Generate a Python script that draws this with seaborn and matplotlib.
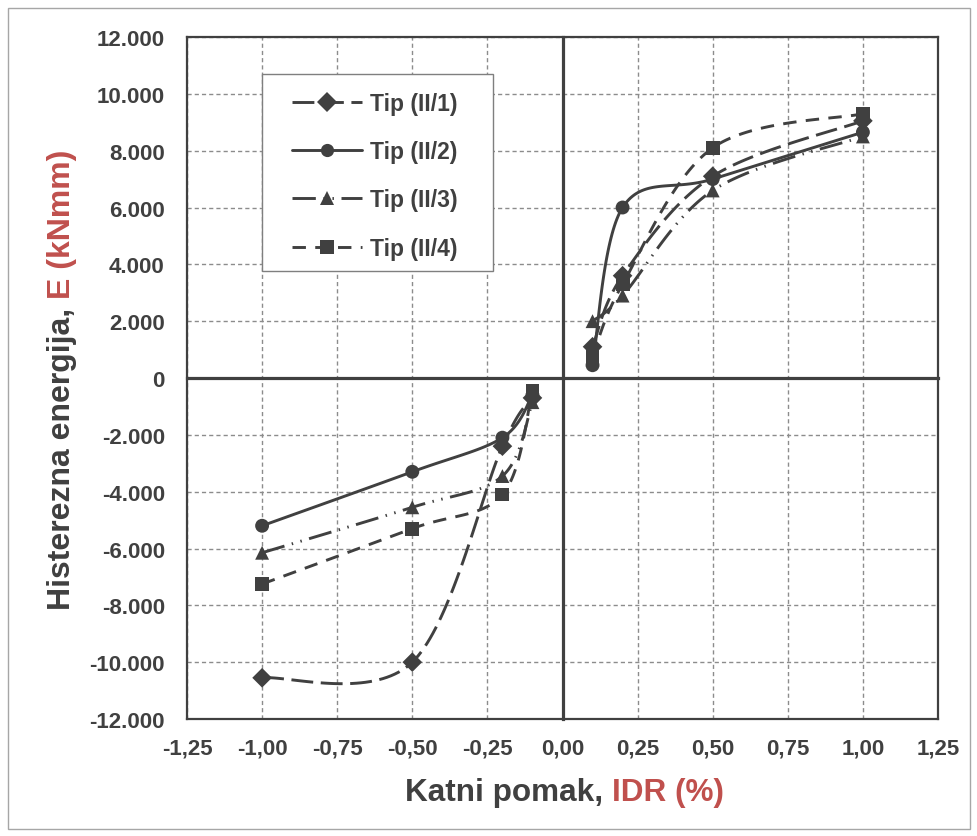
import numpy as np
import pandas as pd
import matplotlib
matplotlib.use('Agg')
import matplotlib.pyplot as plt
from matplotlib.lines import Line2D
from matplotlib.patches import Rectangle
from matplotlib.ticker import FuncFormatter
import seaborn as sns

# Data (IDR in %, energy in kNmm)
x_neg = [-1.0, -0.5, -0.2, -0.1]
x_pos = [0.1, 0.2, 0.5, 1.0]

tip1_neg = [-10550, -10000, -2400, -700]
tip1_pos = [1100, 3600, 7100, 9050]
tip2_neg = [-5200, -3300, -2100, -600]
tip2_pos = [450, 6000, 7000, 8650]
tip3_neg = [-6150, -4550, -3450, -850]
tip3_pos = [2000, 2900, 6600, 8500]
tip4_neg = [-7250, -5300, -4100, -450]
tip4_pos = [750, 3300, 8100, 9300]

series = ['Tip (II/1)', 'Tip (II/2)', 'Tip (II/3)', 'Tip (II/4)']
values = {
    'Tip (II/1)': (tip1_neg, tip1_pos),
    'Tip (II/2)': (tip2_neg, tip2_pos),
    'Tip (II/3)': (tip3_neg, tip3_pos),
    'Tip (II/4)': (tip4_neg, tip4_pos),
}

x_ticks = np.arange(-1.25, 1.26, 0.25)
y_ticks = np.arange(-12000, 12001, 2000)

dark = '#404040'
red = '#C0504D'
lw = 2.1

dash_map = {
    'Tip (II/1)': (7.5, 2.6),
    'Tip (II/2)': '',
    'Tip (II/3)': (8.0, 2.6, 0.5, 2.6, 0.5, 2.6),
    'Tip (II/4)': (4.6, 3.2),
}
marker_map = {'Tip (II/1)': 'D', 'Tip (II/2)': 'o', 'Tip (II/3)': '^', 'Tip (II/4)': 's'}


def smooth(xs, ys, n=40):
    # Excel-style smoothed line (Catmull-Rom Bezier through the points)
    P = np.column_stack([xs, ys]).astype(float)
    out = []
    for i in range(len(P) - 1):
        p0 = P[max(i - 1, 0)]
        p1 = P[i]
        p2 = P[i + 1]
        p3 = P[min(i + 2, len(P) - 1)]
        c1 = p1 + (p2 - p0) / 6
        c2 = p2 - (p3 - p1) / 6
        t = np.linspace(0, 1, n)[:, None]
        seg = (1 - t) ** 3 * p1 + 3 * (1 - t) ** 2 * t * c1 + 3 * (1 - t) * t ** 2 * c2 + t ** 3 * p2
        out.append(seg if i == 0 else seg[1:])
    arr = np.vstack(out)
    return arr[:, 0], arr[:, 1]


# Build tables for seaborn
curve_rows = []
point_rows = []
for name in series:
    neg, pos = values[name]
    for branch, xs, ys in (('neg', x_neg, neg), ('pos', x_pos, pos)):
        sx, sy = smooth(xs, ys)
        for a, b in zip(sx, sy):
            curve_rows.append({'serija': name, 'grana': name + branch, 'x': a, 'y': b})
        for a, b in zip(xs, ys):
            point_rows.append({'serija': name, 'x': a, 'y': b})
curves = pd.DataFrame(curve_rows)
points = pd.DataFrame(point_rows)

sns.set_theme(style='white')
plt.rcParams['font.family'] = ['Liberation Sans', 'DejaVu Sans']
plt.rcParams['font.weight'] = 'bold'

fig = plt.figure(figsize=(9.78, 8.37), dpi=100)
W, H = 978, 837
pos = [187 / W, 1 - 720 / H, (938 - 187) / W, (720 - 38) / H]
ax = fig.add_axes(pos)

sns.lineplot(data=curves, x='x', y='y', style='serija', units='grana', estimator=None,
             sort=False, dashes=dash_map, color=dark, linewidth=lw, legend=False, ax=ax)
sns.scatterplot(data=points, x='x', y='y', style='serija', markers=marker_map, color=dark,
                s=100, edgecolor=dark, linewidth=0, legend=False, ax=ax, zorder=4)

ax.set_xlim(-1.25, 1.25)
ax.set_ylim(-12000, 12000)
ax.set_xticks(x_ticks)
ax.set_yticks(y_ticks)
ax.xaxis.set_major_formatter(FuncFormatter(lambda v, p: f'{v:.2f}'.replace('-0.00', '0.00').replace('.', ',')))
ax.yaxis.set_major_formatter(FuncFormatter(lambda v, p: f'{v:,.0f}'.replace(',', '.')))
ax.tick_params(axis='both', length=0, labelsize=16, labelcolor=dark)
ax.tick_params(axis='x', pad=13)
ax.tick_params(axis='y', pad=16)
for lab in ax.get_xticklabels() + ax.get_yticklabels():
    lab.set_fontweight('bold')
ax.grid(True, color='#8c8c8c', linestyle=(0, (3, 2.2)), linewidth=1.0)
for sp in ax.spines.values():
    sp.set_color(dark)
    sp.set_linewidth(1.6)
ax.set_xlabel('')
ax.set_ylabel('')

# Central axes through zero with crossing ticks
ax0 = fig.add_axes(pos, facecolor='none')
ax0.set_xlim(-1.25, 1.25)
ax0.set_ylim(-12000, 12000)
ax0.set_xticks(x_ticks)
ax0.set_yticks(y_ticks)
ax0.spines['left'].set_position(('data', 0))
ax0.spines['bottom'].set_position(('data', 0))
ax0.spines['top'].set_visible(False)
ax0.spines['right'].set_visible(False)
for s in ('left', 'bottom'):
    ax0.spines[s].set_color(dark)
    ax0.spines[s].set_linewidth(2.3)
ax0.tick_params(direction='inout', length=8, width=2.0, color=dark,
                labelbottom=False, labelleft=False)
ax0.grid(False)

# Legend
handles = []
for n in series:
    h = Line2D([], [], color=dark, linewidth=lw, linestyle='-' if not dash_map[n] else '--',
               marker=marker_map[n], markersize=10 if marker_map[n] in ('D', '^') else 9.5,
               markeredgewidth=0)
    if dash_map[n]:
        h.set_dashes(dash_map[n])
    handles.append(h)
fig.patches.append(Rectangle((262 / W, 1 - 272 / H), (493 - 262) / W, (272 - 75) / H,
                             transform=fig.transFigure, facecolor='white', edgecolor='#7f7f7f',
                             linewidth=1.0, zorder=5))
leg = fig.legend(handles, series, loc='upper left', bbox_to_anchor=(292 / W, 1 - 93 / H),
                 frameon=False, borderpad=0, borderaxespad=0, handlelength=3.05,
                 handletextpad=0.35, labelspacing=1.1,
                 prop={'family': 'Liberation Sans', 'weight': 'bold', 'size': 16.5})
leg.set_zorder(6)
for t in leg.get_texts():
    t.set_color(dark)

# Axis titles with two colours
fig.canvas.draw()
r = fig.canvas.get_renderer()
xfont = {'family': 'Liberation Sans', 'weight': 'bold', 'size': 22.7}
tx1 = fig.text(405 / W, 36 / H, 'Katni pomak,', color=dark, ha='left', va='baseline', **xfont)
w1 = tx1.get_window_extent(r).width
fig.text((405 + w1 + 0.278 * 22.7 * 100 / 72) / W, 36 / H, 'IDR (%)', color=red,
         ha='left', va='baseline', **xfont)

yfont = {'family': 'Liberation Sans', 'weight': 'bold', 'size': 23}
ty1 = fig.text(70 / W, 227 / H, 'Histerezna energija,', color=dark, rotation=90,
               rotation_mode='anchor', ha='left', va='baseline', **yfont)
h1 = ty1.get_window_extent(r).height
fig.text(70 / W, (227 + h1 + 0.278 * 23 * 100 / 72) / H, 'E (kNmm)', color=red, rotation=90,
         rotation_mode='anchor', ha='left', va='baseline', **yfont)

# Outer chart border
fig.patches.append(Rectangle((8 / W, 1 - 830 / H), (970 - 8) / W, (830 - 9) / H,
                             transform=fig.transFigure, facecolor='none', edgecolor='#a6a6a6',
                             linewidth=1.0))

fig.savefig('out.png', dpi=100)
